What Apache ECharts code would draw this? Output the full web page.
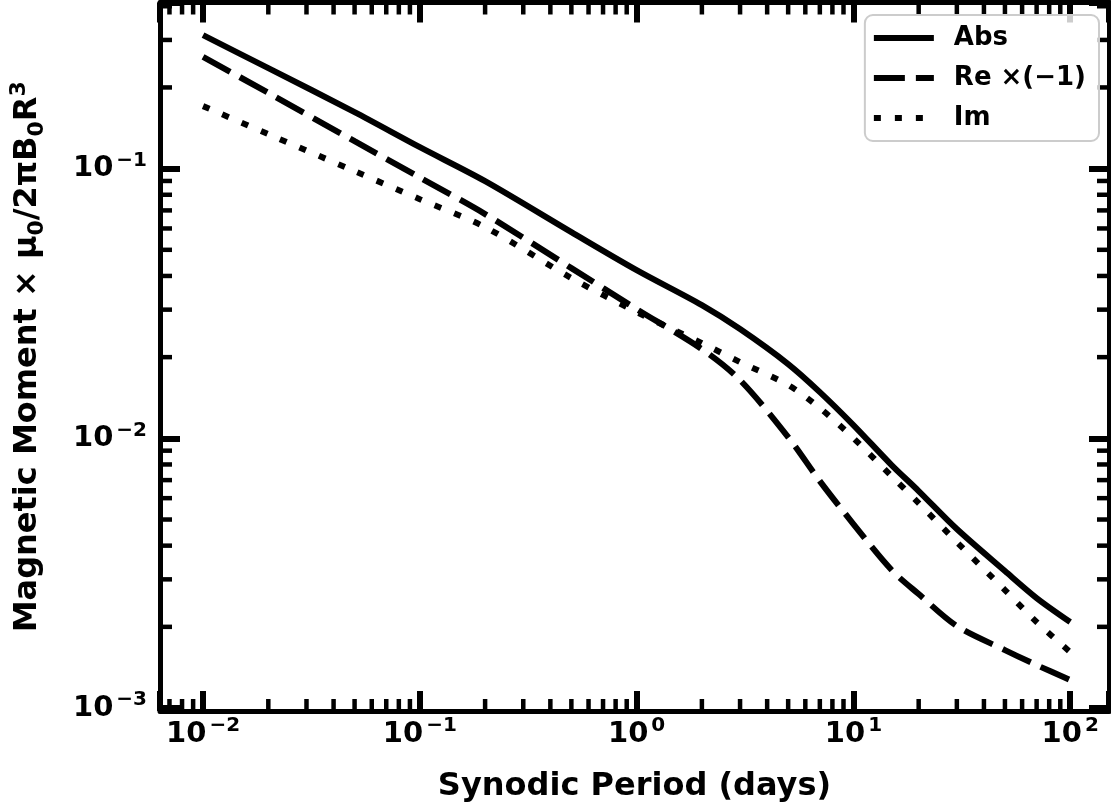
<!DOCTYPE html>
<html><head><meta charset="utf-8">
<script src="https://cdn.jsdelivr.net/npm/echarts@6/dist/echarts.min.js"></script>
<style>html,body{margin:0;padding:0;background:#fff}#c{width:1111px;height:808px}</style>
</head><body><div id="c"></div>
<script>
// ---- data ----
const periods      = [0.01, 0.02, 0.05, 0.1, 0.2, 0.5, 1, 2, 3, 5, 7, 10, 15, 20, 30, 50, 70, 100];
const absMoment    = [0.3126, 0.2358, 0.1620, 0.1201, 0.08987, 0.05815, 0.04204, 0.03119, 0.02541, 0.01885, 0.01484, 0.0112, 0.007958, 0.006376, 0.004609, 0.00322, 0.002557, 0.002084];
const reMomentNeg  = [0.2597, 0.1909, 0.1264, 0.09268, 0.06784, 0.04277, 0.03014, 0.02142, 0.01644, 0.01011, 0.006942, 0.00481, 0.003248, 0.002646, 0.002014, 0.00164, 0.001443, 0.00127];
const imMoment     = [0.1705, 0.1342, 0.09788, 0.07704, 0.06068, 0.03928, 0.02938, 0.02255, 0.01917, 0.01576, 0.01295, 0.01002, 0.007244, 0.005754, 0.004123, 0.002738, 0.002084, 0.001613];
const seriesNames  = ['Abs', 'Re \u00d7(\u22121)', 'Im'];
const xMinorTicks  = [0.007, 0.008, 0.009, 0.02, 0.03, 0.04, 0.05, 0.06, 0.07, 0.08, 0.09, 0.2, 0.3, 0.4, 0.5, 0.6, 0.7, 0.8, 0.9, 2, 3, 4, 5, 6, 7, 8, 9, 20, 30, 40, 50, 60, 70, 80, 90];
const yMinorTicks  = [0.002, 0.003, 0.004, 0.005, 0.006, 0.007, 0.008, 0.009, 0.02, 0.03, 0.04, 0.05, 0.06, 0.07, 0.08, 0.09, 0.2, 0.3, 0.4];
const xRange = [0.00633, 151];
const yRange = [0.000975, 0.413];
const xTitle = 'Synodic Period (days)';
const yTitle = 'Magnetic Moment \u00d7 \u03bc{sub|0}/2\u03c0B{sub|0}R{sup|3}';

// ---- chart ----
const FONT = 'DejaVu Sans';
function decadeLabel(v) {
  const e = Math.log10(v), r = Math.round(e);
  if (Math.abs(e - r) > 1e-6) return '';
  const s = r < 0 ? '\u2212' + (-r) : String(r);
  return '{b|10}{s|' + s + '}';
}
const tickRich = {
  b: {fontFamily: FONT, fontWeight: 'bold', fontSize: 29, lineHeight: 36, color: '#000'},
  s: {fontFamily: FONT, fontWeight: 'bold', fontSize: 20, lineHeight: 17, verticalAlign: 'top', color: '#000', padding: [0, 0, 0, 3]}
};
const MAJ_LEN = 20, MAJ_W = 6, MIN_LEN = 12, MIN_W = 4.5, SPINE_W = 5;

function xAxisCfg(pos, labels) {
  return {
    type: 'log', logBase: 10, position: pos, min: xRange[0], max: xRange[1], z: 1,
    axisLine: {show: true, onZero: false, lineStyle: {color: '#000', width: SPINE_W}},
    axisTick: {show: true, inside: true, length: MAJ_LEN, lineStyle: {color: '#000', width: MAJ_W}},
    axisLabel: {show: labels, margin: 5, formatter: decadeLabel, rich: tickRich},
    splitLine: {show: false}, minorTick: {show: false}, minorSplitLine: {show: false},
    name: labels ? xTitle : '', nameLocation: 'middle', nameGap: 60,
    nameTextStyle: {fontFamily: FONT, fontWeight: 'bold', fontSize: 32, color: '#000'}
  };
}
function yAxisCfg(pos, labels) {
  return {
    type: 'log', logBase: 10, position: pos, min: yRange[0], max: yRange[1], z: 1,
    axisLine: {show: true, onZero: false, lineStyle: {color: '#000', width: SPINE_W}},
    axisTick: {show: true, inside: true, length: MAJ_LEN, lineStyle: {color: '#000', width: MAJ_W}},
    axisLabel: {show: labels, margin: 13, formatter: decadeLabel, rich: tickRich},
    splitLine: {show: false}, minorTick: {show: false}, minorSplitLine: {show: false},
    name: labels ? yTitle : '', nameLocation: 'middle', nameGap: 112, nameRotate: 90,
    nameTextStyle: {
      fontFamily: FONT, fontWeight: 'bold', fontSize: 32, color: '#000', lineHeight: 40,
      rich: {
        sub: {fontFamily: FONT, fontWeight: 'bold', fontSize: 22, color: '#000', lineHeight: 22, verticalAlign: 'bottom'},
        sup: {fontFamily: FONT, fontWeight: 'bold', fontSize: 22, color: '#000', lineHeight: 22, verticalAlign: 'top'}
      }
    }
  };
}

function lineSeries(name, values, type) {
  return {
    name: name, type: 'line', xAxisIndex: 0, yAxisIndex: 0,
    data: periods.map((p, i) => [p, values[i]]),
    symbol: 'none', smooth: 0.3, z: 5,
    lineStyle: {color: '#000', width: 6, type: type, cap: 'butt'},
    itemStyle: {color: '#000', opacity: 0}
  };
}

const minorX = {
  type: 'custom', xAxisIndex: 0, yAxisIndex: 0, silent: true, z: 3,
  data: xMinorTicks.map(v => [v, yRange[0]]),
  renderItem(params, api) {
    const px = api.coord([api.value(0), api.value(1)])[0];
    const cs = params.coordSys, b = cs.y + cs.height, t = cs.y;
    return {type: 'group', children: [
      {type: 'line', shape: {x1: px, y1: b, x2: px, y2: b - MIN_LEN}, style: {stroke: '#000', lineWidth: MIN_W}},
      {type: 'line', shape: {x1: px, y1: t, x2: px, y2: t + MIN_LEN}, style: {stroke: '#000', lineWidth: MIN_W}}
    ]};
  }
};
const minorY = {
  type: 'custom', xAxisIndex: 0, yAxisIndex: 0, silent: true, z: 3,
  data: yMinorTicks.map(v => [xRange[0], v]),
  renderItem(params, api) {
    const py = api.coord([api.value(0), api.value(1)])[1];
    const cs = params.coordSys, l = cs.x, r = cs.x + cs.width;
    return {type: 'group', children: [
      {type: 'line', shape: {x1: l, y1: py, x2: l + MIN_LEN, y2: py}, style: {stroke: '#000', lineWidth: MIN_W}},
      {type: 'line', shape: {x1: r, y1: py, x2: r - MIN_LEN, y2: py}, style: {stroke: '#000', lineWidth: MIN_W}}
    ]};
  }
};

const chart = echarts.init(document.getElementById('c'), null, {renderer: 'canvas'});
chart.setOption({
  animation: false,
  backgroundColor: '#fff',
  grid: {left: 160, right: 2, top: 2.5, bottom: 97, containLabel: false, outerBoundsMode: 'none'},
  xAxis: [xAxisCfg('bottom', true), xAxisCfg('top', false)],
  yAxis: [yAxisCfg('left', true), yAxisCfg('right', false)],
  legend: {
    orient: 'vertical', right: 12, top: 15, data: seriesNames, z: 20,
    itemWidth: 60, itemHeight: 8, itemGap: 10,
    padding: [8, 13, 8, 6],
    backgroundColor: 'rgba(255,255,255,0.8)', borderColor: '#cccccc', borderWidth: 2, borderRadius: 8,
    itemStyle: {opacity: 0},
    lineStyle: {width: 6},
    textStyle: {fontFamily: FONT, fontWeight: 'bold', fontSize: 26, color: '#000', lineHeight: 30, padding: [0, 0, 0, 15]},
    selectedMode: false
  },
  series: [
    minorX, minorY,
    lineSeries(seriesNames[0], absMoment, 'solid'),
    lineSeries(seriesNames[1], reMomentNeg, [31, 11]),
    lineSeries(seriesNames[2], imMoment, [7, 14])
  ]
});
</script>
</body></html>
